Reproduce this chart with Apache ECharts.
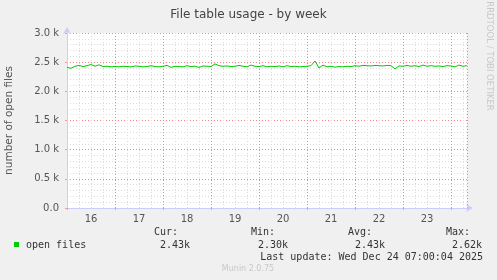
<!DOCTYPE html>
<html>
<head>
<meta charset="utf-8">
<script src="https://cdn.jsdelivr.net/npm/echarts@6/dist/echarts.min.js"></script>
<style>
html,body{margin:0;padding:0;background:#f0f0f0;}
#c{width:497px;height:280px;}
</style>
</head>
<body>
<div id="c"></div>
<script>
// Hours since Dec 16 00:00, sampled every 2 hours
var hours = [];
for (var i = 0; i <= 100; i++) hours.push(i * 2);
var openFiles = [
2410,2395,2430,2445,2425,2440,2460,2430,2455,2425,2430,2420,
2425,2420,2430,2425,2420,2435,2430,2420,2425,2440,2425,2420,
2430,2445,2410,2430,2425,2420,2440,2425,2430,2410,2435,2430,
2425,2470,2440,2430,2435,2425,2430,2445,2430,2420,2450,2430,
2425,2440,2420,2430,2425,2435,2420,2440,2425,2430,2420,2425,
2430,2440,2520,2400,2450,2420,2430,2415,2425,2420,2430,2425,
2440,2430,2445,2440,2435,2445,2440,2435,2445,2440,2385,2435,
2430,2445,2430,2440,2425,2450,2430,2440,2430,2435,2425,2440,
2435,2420,2450,2430,2440
];
var dayLabels = ['16','17','18','19','20','21','22','23'];
var dayLabelHours = [12,36,60,84,108,132,156,180];
var yTicks = ['0.0','0.5 k','1.0 k','1.5 k','2.0 k','2.5 k','3.0 k'];
var statLabels = ['Cur:','Min:','Avg:','Max:'];
var statValues = ['2.43k','2.30k','2.43k','2.62k'];
var seriesName = 'open files';
var lastUpdate = 'Last update: Wed Dec 24 07:00:04 2025';

var data = hours.map(function(h, i){ return [h, openFiles[i]]; });

var statX = [178, 275, 372, 470];
var valX = [190, 288, 385, 482];
var graphics = [
  {type:'rect', shape:{x:14,y:242,width:5,height:5}, style:{fill:'#00cc00'}},
  {type:'text', x:26, y:245, style:{text:seriesName, font:'10px "DejaVu Sans Mono"', fill:'#333', verticalAlign:'middle'}},
  {type:'text', x:483, y:257, style:{text:lastUpdate, font:'10px "DejaVu Sans Mono"', fill:'#333', align:'right', verticalAlign:'middle'}},
  {type:'text', x:248, y:269, style:{text:'Munin 2.0.75', font:'8px "DejaVu Sans"', fill:'#c8c8c8', align:'center', verticalAlign:'middle'}},
  {type:'text', x:489, y:56, rotation:-Math.PI/2, style:{text:'RRDTOOL / TOBI OETIKER', font:'8.5px "DejaVu Sans"', fill:'#c8c8c8', align:'center', verticalAlign:'middle'}}
];
statLabels.forEach(function(s, i){
  graphics.push({type:'text', x:statX[i], y:232, style:{text:s, font:'10px "DejaVu Sans Mono"', fill:'#333', align:'right', verticalAlign:'middle'}});
  graphics.push({type:'text', x:valX[i], y:245, style:{text:statValues[i], font:'10px "DejaVu Sans Mono"', fill:'#333', align:'right', verticalAlign:'middle'}});
});

var chart = echarts.init(document.getElementById('c'), null, {renderer:'canvas'});
chart.setOption({
  backgroundColor:'#f0f0f0',
  animation:false,
  title:{text:'File table usage - by week', left:'center', top:4,
    textStyle:{fontFamily:'DejaVu Sans', fontSize:12, fontWeight:'normal', color:'#444'}},
  grid:{left:67, right:30, top:33, bottom:72, show:true, backgroundColor:'#ffffff', borderWidth:0,
    containLabel:false, outerBoundsMode:'none'},
  xAxis:{
    type:'value', min:0, max:200, interval:24,
    axisLine:{show:true, lineStyle:{color:'#ccccff', width:1}, symbol:['none','arrow'], symbolSize:[6,7], symbolOffset:[0,6]},
    axisTick:{show:true, length:2, lineStyle:{color:'#ff9999'}},
    axisLabel:{customValues:dayLabelHours, fontFamily:'DejaVu Sans', fontSize:10, color:'#555', margin:6,
      formatter:function(v){ var k = dayLabelHours.indexOf(v); return k >= 0 ? dayLabels[k] : ''; }},
    splitLine:{show:true, lineStyle:{color:'#ee8888', type:[1,2], width:1}},
    minorTick:{show:false, splitNumber:4},
    minorSplitLine:{show:true, lineStyle:{color:'#dcdcdc', type:[1,2], width:1}}
  },
  yAxis:{
    type:'value', min:0, max:3000, interval:500,
    name:'number of open files', nameLocation:'middle', nameGap:52,
    nameTextStyle:{fontFamily:'DejaVu Sans', fontSize:10.5, color:'#555'},
    axisLine:{show:true, lineStyle:{color:'#ccccff', width:1}, symbol:['none','arrow'], symbolSize:[6,7], symbolOffset:[0,6]},
    axisTick:{show:true, length:2, lineStyle:{color:'#ff9999'}},
    axisLabel:{fontFamily:'DejaVu Sans', fontSize:10, color:'#555', margin:8,
      formatter:function(v){ return yTicks[Math.round(v/500)]; }},
    splitLine:{show:true, lineStyle:{color:'#ee8888', type:[1,2], width:1}},
    minorTick:{show:false, splitNumber:5},
    minorSplitLine:{show:true, lineStyle:{color:'#dcdcdc', type:[1,2], width:1}}
  },
  series:[{
    type:'line', name:seriesName, data:data, showSymbol:false, symbol:'none',
    lineStyle:{color:'#00cc00', width:1}, z:5
  }],
  graphic:graphics
});
</script>
</body>
</html>
